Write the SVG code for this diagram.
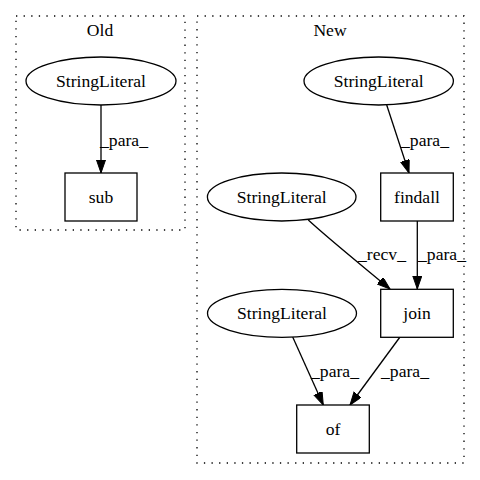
<svg xmlns="http://www.w3.org/2000/svg" width="480" height="480" viewBox="0 0 480 480">
<style>
text{font-family:"Liberation Serif","Times New Roman",serif;font-size:17.6px;fill:#000;text-anchor:middle}
.cl{fill:none;stroke:#000;stroke-width:1.3;stroke-dasharray:1.3,6.3}
.n{fill:#fff;stroke:#000;stroke-width:1.3}
.e{fill:none;stroke:#000;stroke-width:1.3;marker-end:url(#ah)}
</style>
<defs>
<marker id="ah" markerUnits="userSpaceOnUse" markerWidth="14" markerHeight="10" refX="13" refY="4.5" orient="auto">
<path d="M0,0 L13,4.5 L0,9 z" fill="#000" stroke="#000" stroke-width="1"/>
</marker>
</defs>
<rect width="480" height="480" fill="#fff"/>
<g id="cluster_old">
<rect class="cl" x="16" y="16" width="169" height="214"/>
<text x="100" y="36">Old</text>
</g>
<g id="cluster_new">
<rect class="cl" x="197" y="16" width="267" height="447"/>
<text x="330" y="36">New</text>
</g>
<g id="edges">
<line class="e" x1="101" y1="105" x2="101" y2="173"/>
<text x="124" y="146">_para_</text>
<line class="e" x1="386.7" y1="105" x2="409" y2="173"/>
<text x="425" y="146">_para_</text>
<path class="e" d="M308.3,220 C330,240 365,268 390,289"/>
<text x="382" y="260">_recv_</text>
<line class="e" x1="417.3" y1="221" x2="417.3" y2="289"/>
<text x="442" y="260">_para_</text>
<line class="e" x1="292.7" y1="337" x2="323.3" y2="405"/>
<text x="335" y="377">_para_</text>
<line class="e" x1="400" y1="337" x2="350" y2="405"/>
<text x="405" y="377">_para_</text>
</g>
<g id="old_sl">
<ellipse class="n" cx="101" cy="81" rx="75" ry="24"/>
<text x="101" y="87">StringLiteral</text>
</g>
<g id="sub">
<rect class="n" x="65" y="173" width="72" height="48"/>
<text x="101" y="203">sub</text>
</g>
<g id="new_sl1">
<ellipse class="n" cx="378.7" cy="81" rx="74.7" ry="24"/>
<text x="378.7" y="87">StringLiteral</text>
</g>
<g id="findall">
<rect class="n" x="380.7" y="173" width="72.6" height="48"/>
<text x="417" y="203">findall</text>
</g>
<g id="new_sl2">
<ellipse class="n" cx="281.7" cy="197" rx="74.3" ry="24"/>
<text x="281.7" y="203">StringLiteral</text>
</g>
<g id="join">
<rect class="n" x="380.7" y="289.3" width="72.6" height="48"/>
<text x="417" y="319">join</text>
</g>
<g id="new_sl3">
<ellipse class="n" cx="282" cy="313.3" rx="74.5" ry="24"/>
<text x="282" y="319">StringLiteral</text>
</g>
<g id="of">
<rect class="n" x="296.7" y="405" width="72.6" height="48"/>
<text x="333" y="435">of</text>
</g>
</svg>
